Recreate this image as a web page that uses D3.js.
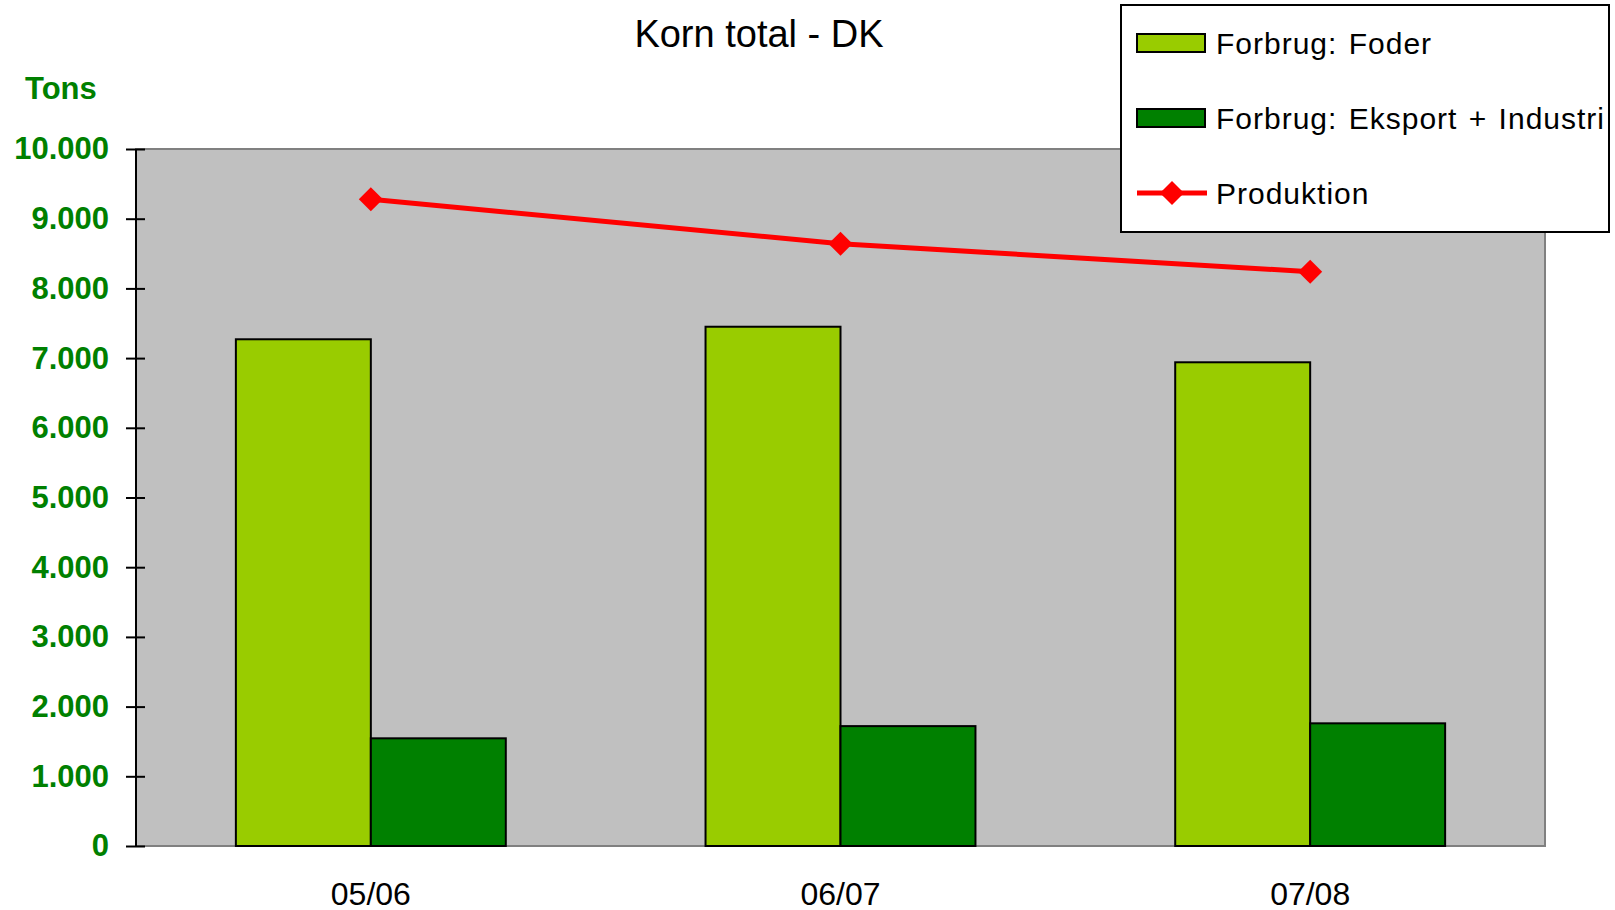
<!DOCTYPE html>
<meta charset="utf-8">
<style>
body { margin: 0; background: #fff; }
text { font-family: Arial, "Liberation Sans", sans-serif; }
.yaxis text { fill: #008000; font-weight: bold; font-size: 31px; }
.yaxis line { stroke: #000; stroke-width: 2px; }
.xlabel { font-size: 32px; fill: #000; }
.legend text { font-size: 30px; letter-spacing: 1px; word-spacing: 2px; fill: #000; }
</style>
<svg width="1615" height="910"></svg>
<script src="https://d3js.org/d3.v7.min.js"></script>
<script>

// Chart data (1000 tons)
var seasons  = ["05/06", "06/07", "07/08"];
var foder    = [7270, 7450, 6940];
var eksport  = [1545, 1720, 1760];
var produkt  = [9280, 8640, 8240];
var yTicks   = [0, 1000, 2000, 3000, 4000, 5000, 6000, 7000, 8000, 9000, 10000];
var barKeys  = ["Forbrug: Foder", "Forbrug: Eksport + Industri"];
var lineKey  = "Produktion";

var svg = d3.select("svg");

var plotLeft = 136, plotRight = 1545, plotTop = 149, plotBottom = 846;

var x0 = d3.scaleBand()
    .domain(seasons)
    .range([plotLeft, plotRight]);

var x1 = d3.scaleBand()
    .domain(barKeys)
    .range([0, x0.bandwidth()])
    .paddingOuter(0.74);

var y = d3.scaleLinear()
    .domain([0, 10000])
    .range([plotBottom, plotTop]);

var color = d3.scaleOrdinal()
    .domain(barKeys)
    .range(["#99cc00", "#008000"]);

var dk = d3.formatLocale({decimal: ",", thousands: ".", grouping: [3], currency: ["", ""]});

// plot area
svg.append("rect")
    .attr("x", plotLeft)
    .attr("y", plotTop)
    .attr("width", plotRight - plotLeft)
    .attr("height", plotBottom - plotTop)
    .attr("fill", "#c0c0c0")
    .attr("stroke", "#808080")
    .attr("stroke-width", 2);

// title + unit
svg.append("text")
    .attr("x", 759)
    .attr("y", 47)
    .attr("text-anchor", "middle")
    .attr("font-size", 38)
    .text("Korn total - DK");

svg.append("text")
    .attr("x", 25)
    .attr("y", 99)
    .attr("fill", "#008000")
    .attr("font-weight", "bold")
    .attr("font-size", 31)
    .text("Tons");

// bars
var rows = seasons.map(function(s, i) {
  return {season: s, values: [
    {key: barKeys[0], value: foder[i]},
    {key: barKeys[1], value: eksport[i]}
  ]};
});

svg.append("g")
  .selectAll("g")
  .data(rows)
  .enter().append("g")
    .attr("transform", function(d) { return "translate(" + x0(d.season) + ",0)"; })
  .selectAll("rect")
  .data(function(d) { return d.values; })
  .enter().append("rect")
    .attr("x", function(d) { return x1(d.key); })
    .attr("width", x1.bandwidth())
    .attr("y", function(d) { return y(d.value); })
    .attr("height", function(d) { return y(0) - y(d.value); })
    .attr("fill", function(d) { return color(d.key); })
    .attr("stroke", "#000")
    .attr("stroke-width", 2);

// y axis
var yAxis = svg.append("g")
    .attr("class", "yaxis")
    .attr("transform", "translate(" + plotLeft + ",0)")
    .call(d3.axisLeft(y)
      .tickValues(yTicks)
      .tickSize(10)
      .tickPadding(17)
      .tickFormat(dk.format(",d")));
yAxis.select(".domain").remove();
yAxis.selectAll(".tick line").attr("x2", 9).attr("x1", -10);
svg.append("line")
    .attr("x1", plotLeft).attr("x2", plotLeft)
    .attr("y1", plotTop).attr("y2", plotBottom)
    .attr("stroke", "#000")
    .attr("stroke-width", 2);

// x labels
svg.append("g")
  .selectAll("text")
  .data(seasons)
  .enter().append("text")
    .attr("class", "xlabel")
    .attr("x", function(d) { return x0(d) + x0.bandwidth() / 2; })
    .attr("y", 905)
    .attr("text-anchor", "middle")
    .text(function(d) { return d; });

// production line
var line = d3.line()
    .x(function(d, i) { return x0(seasons[i]) + x0.bandwidth() / 2; })
    .y(function(d) { return y(d); });

svg.append("path")
    .datum(produkt)
    .attr("fill", "none")
    .attr("stroke", "#ff0000")
    .attr("stroke-width", 5)
    .attr("d", line);

var diamond = d3.symbol().type(d3.symbolDiamond2).size(370);

svg.append("g")
  .selectAll("path")
  .data(produkt)
  .enter().append("path")
    .attr("transform", function(d, i) {
      return "translate(" + (x0(seasons[i]) + x0.bandwidth() / 2) + "," + y(d) + ")";
    })
    .attr("d", diamond)
    .attr("fill", "#ff0000");

// legend
var legend = svg.append("g").attr("class", "legend");

legend.append("rect")
    .attr("x", 1121)
    .attr("y", 5)
    .attr("width", 488)
    .attr("height", 227)
    .attr("fill", "#fff")
    .attr("stroke", "#000")
    .attr("stroke-width", 2);

var legendY = d3.scalePoint()
    .domain(barKeys.concat([lineKey]))
    .range([43, 193]);

barKeys.forEach(function(k) {
  legend.append("rect")
      .attr("x", 1137)
      .attr("y", legendY(k) - 9)
      .attr("width", 68)
      .attr("height", 18)
      .attr("fill", color(k))
      .attr("stroke", "#000")
      .attr("stroke-width", 2);
});

legend.append("line")
    .attr("x1", 1137).attr("x2", 1207)
    .attr("y1", legendY(lineKey)).attr("y2", legendY(lineKey))
    .attr("stroke", "#ff0000")
    .attr("stroke-width", 5);

legend.append("path")
    .attr("transform", "translate(1172," + legendY(lineKey) + ")")
    .attr("d", diamond)
    .attr("fill", "#ff0000");

legend.selectAll("text.item")
  .data(legendY.domain())
  .enter().append("text")
    .attr("class", "item")
    .attr("x", 1216)
    .attr("y", function(d) { return legendY(d) + 11; })
    .text(function(d) { return d; });

</script>
